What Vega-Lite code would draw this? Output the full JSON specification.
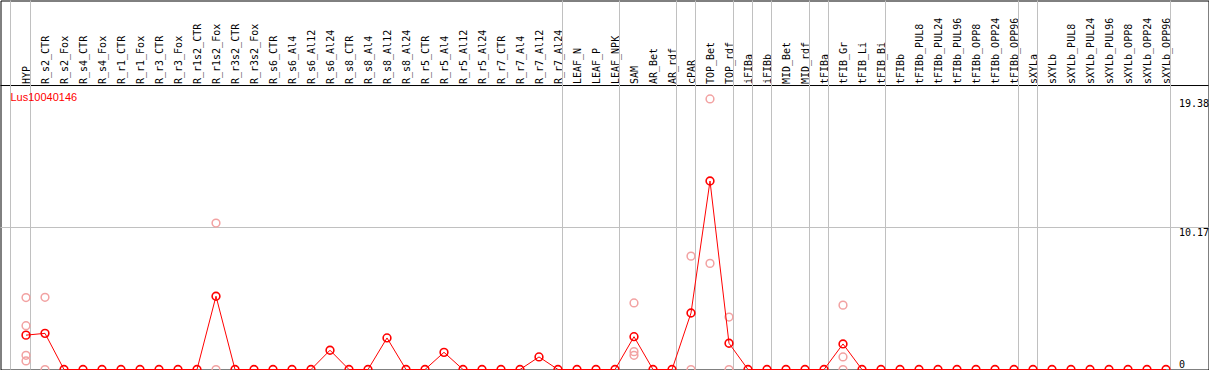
{
  "$schema": "https://vega.github.io/schema/vega-lite/v6.json",
  "width": 1208,
  "height": 369,
  "autosize": {"type": "none"},
  "padding": {"left": 0.5, "top": 0.5, "right": 0.5, "bottom": 0.5},
  "background": "white",
  "config": {
    "view": {"stroke": "black", "strokeWidth": 1},
    "axis": {"labelFont": "DejaVu Sans Mono", "labelFontSize": 10, "labelColor": "black", "ticks": false, "tickSize": 0, "domain": false, "grid": false, "title": null}
  },
  "title": {"text": "Lus10040146", "anchor": "start", "frame": "group", "orient": "top", "color": "#ff0000", "font": "Liberation Sans", "fontSize": 11, "fontWeight": "normal", "offset": 0, "dx": 10, "dy": 112, "baseline": "alphabetic"},
  "datasets": {
    "means": [
      {"cat": "HYP", "v": 2.46}, {"cat": "R_s2_CTR", "v": 2.59}, {"cat": "R_s2_Fox", "v": 0}, {"cat": "R_s4_CTR", "v": 0}, {"cat": "R_s4_Fox", "v": 0},
      {"cat": "R_r1_CTR", "v": 0}, {"cat": "R_r1_Fox", "v": 0}, {"cat": "R_r3_CTR", "v": 0}, {"cat": "R_r3_Fox", "v": 0}, {"cat": "R_r1s2_CTR", "v": 0},
      {"cat": "R_r1s2_Fox", "v": 5.25}, {"cat": "R_r3s2_CTR", "v": 0}, {"cat": "R_r3s2_Fox", "v": 0}, {"cat": "R_s6_CTR", "v": 0}, {"cat": "R_s6_Al4", "v": 0},
      {"cat": "R_s6_Al12", "v": 0}, {"cat": "R_s6_Al24", "v": 1.38}, {"cat": "R_s8_CTR", "v": 0}, {"cat": "R_s8_Al4", "v": 0}, {"cat": "R_s8_Al12", "v": 2.26},
      {"cat": "R_s8_Al24", "v": 0}, {"cat": "R_r5_CTR", "v": 0}, {"cat": "R_r5_Al4", "v": 1.23}, {"cat": "R_r5_Al12", "v": 0}, {"cat": "R_r5_Al24", "v": 0},
      {"cat": "R_r7_CTR", "v": 0}, {"cat": "R_r7_Al4", "v": 0}, {"cat": "R_r7_Al12", "v": 0.9}, {"cat": "R_r7_Al24", "v": 0}, {"cat": "LEAF_N", "v": 0},
      {"cat": "LEAF_P", "v": 0}, {"cat": "LEAF_NPK", "v": 0}, {"cat": "SAM", "v": 2.35}, {"cat": "AR_Bet", "v": 0}, {"cat": "AR_rdf", "v": 0},
      {"cat": "cPAR", "v": 4.05}, {"cat": "TOP_Bet", "v": 13.5}, {"cat": "TOP_rdf", "v": 1.88}, {"cat": "iFIBa", "v": 0}, {"cat": "iFIBb", "v": 0},
      {"cat": "MID_Bet", "v": 0}, {"cat": "MID_rdf", "v": 0}, {"cat": "tFIBa", "v": 0}, {"cat": "tFIB_Gr", "v": 1.83}, {"cat": "tFIB_Li", "v": 0},
      {"cat": "tFIB_Bi", "v": 0}, {"cat": "tFIBb", "v": 0}, {"cat": "tFIBb_PUL8", "v": 0}, {"cat": "tFIBb_PUL24", "v": 0}, {"cat": "tFIBb_PUL96", "v": 0},
      {"cat": "tFIBb_OPP8", "v": 0}, {"cat": "tFIBb_OPP24", "v": 0}, {"cat": "tFIBb_OPP96", "v": 0}, {"cat": "sXYLa", "v": 0}, {"cat": "sXYLb", "v": 0},
      {"cat": "sXYLb_PUL8", "v": 0}, {"cat": "sXYLb_PUL24", "v": 0}, {"cat": "sXYLb_PUL96", "v": 0}, {"cat": "sXYLb_OPP8", "v": 0}, {"cat": "sXYLb_OPP24", "v": 0},
      {"cat": "sXYLb_OPP96", "v": 0}
    ],
    "reps": [
      {"cat": "HYP", "v": 5.15}, {"cat": "HYP", "v": 3.14}, {"cat": "HYP", "v": 1.02}, {"cat": "HYP", "v": 0.61},
      {"cat": "R_s2_CTR", "v": 5.17}, {"cat": "R_s2_CTR", "v": 0},
      {"cat": "R_r1s2_Fox", "v": 10.49}, {"cat": "R_r1s2_Fox", "v": 0},
      {"cat": "SAM", "v": 4.77}, {"cat": "SAM", "v": 1.28}, {"cat": "SAM", "v": 1.02},
      {"cat": "cPAR", "v": 8.12}, {"cat": "cPAR", "v": 0},
      {"cat": "TOP_Bet", "v": 19.38}, {"cat": "TOP_Bet", "v": 7.6},
      {"cat": "TOP_rdf", "v": 3.76}, {"cat": "TOP_rdf", "v": 0},
      {"cat": "tFIB_Gr", "v": 4.61}, {"cat": "tFIB_Gr", "v": 0.9}, {"cat": "tFIB_Gr", "v": 0}
    ],
    "bounds": [
      {"cat": "HYP"}, {"cat": "R_r7_Al24"}, {"cat": "LEAF_NPK"}, {"cat": "AR_rdf"}, {"cat": "cPAR"}, {"cat": "TOP_rdf"}, {"cat": "iFIBa"},
      {"cat": "iFIBb"}, {"cat": "MID_rdf"}, {"cat": "tFIBa"}, {"cat": "tFIB_Bi"}, {"cat": "tFIBb_OPP96"}, {"cat": "sXYLa"}, {"cat": "sXYLb_OPP96"}
    ],
    "hlines": [
      {"v": 10.17, "kind": "grid"}, {"v": 20.34, "kind": "frame"}
    ]
  },
  "layer": [
    {
      "data": {"name": "hlines"},
      "mark": {"type": "rule", "strokeWidth": 1},
      "encoding": {
        "y": {"field": "v", "type": "quantitative", "scale": {"domain": [0, 26.43]}},
        "color": {"field": "kind", "type": "nominal", "scale": {"domain": ["grid", "frame"], "range": ["#c0c0c0", "#000000"]}, "legend": null}
      }
    },
    {
      "encoding": {
        "x": {
          "field": "cat", "type": "nominal",
          "scale": {"type": "point", "padding": 0, "range": [25.5, 1165.5], "domain": ["HYP","R_s2_CTR","R_s2_Fox","R_s4_CTR","R_s4_Fox","R_r1_CTR","R_r1_Fox","R_r3_CTR","R_r3_Fox","R_r1s2_CTR","R_r1s2_Fox","R_r3s2_CTR","R_r3s2_Fox","R_s6_CTR","R_s6_Al4","R_s6_Al12","R_s6_Al24","R_s8_CTR","R_s8_Al4","R_s8_Al12","R_s8_Al24","R_r5_CTR","R_r5_Al4","R_r5_Al12","R_r5_Al24","R_r7_CTR","R_r7_Al4","R_r7_Al12","R_r7_Al24","LEAF_N","LEAF_P","LEAF_NPK","SAM","AR_Bet","AR_rdf","cPAR","TOP_Bet","TOP_rdf","iFIBa","iFIBb","MID_Bet","MID_rdf","tFIBa","tFIB_Gr","tFIB_Li","tFIB_Bi","tFIBb","tFIBb_PUL8","tFIBb_PUL24","tFIBb_PUL96","tFIBb_OPP8","tFIBb_OPP24","tFIBb_OPP96","sXYLa","sXYLb","sXYLb_PUL8","sXYLb_PUL24","sXYLb_PUL96","sXYLb_OPP8","sXYLb_OPP24","sXYLb_OPP96"]},
          "axis": {"orient": "top", "labelAngle": 270, "labelAlign": "left", "labelBaseline": "middle", "labelPadding": -83, "labelOverlap": false, "labelLimit": 0, "labelFlush": false}
        }
      },
      "layer": [
        {
          "data": {"name": "bounds"},
          "mark": {"type": "rule", "color": "#c0c0c0", "strokeWidth": 1, "xOffset": 4.5}
        },
        {
          "data": {"name": "bounds"},
          "transform": [{"filter": "datum.cat === 'HYP'"}],
          "mark": {"type": "rule", "color": "#c0c0c0", "strokeWidth": 1, "xOffset": -15.5}
        },
        {
          "data": {"name": "reps"},
          "mark": {"type": "point", "shape": "circle", "filled": false, "size": 60, "strokeWidth": 1.5, "color": "#f2a2a2", "opacity": 1},
          "encoding": {"y": {"field": "v", "type": "quantitative", "scale": {"domain": [0, 26.43]}}}
        },
        {
          "data": {"name": "means"},
          "mark": {"type": "line", "color": "#ff0000", "strokeWidth": 1},
          "encoding": {"y": {"field": "v", "type": "quantitative", "scale": {"domain": [0, 26.43]}}}
        },
        {
          "data": {"name": "means"},
          "mark": {"type": "point", "shape": "circle", "filled": false, "size": 60, "strokeWidth": 1.6, "color": "#ff0000", "opacity": 1},
          "encoding": {
            "y": {
              "field": "v", "type": "quantitative", "scale": {"domain": [0, 26.43]},
              "axis": {"orient": "right", "values": [0, 10.17, 19.38], "labelExpr": "datum.value === 0 ? '0' : format(datum.value, '.2f')", "labelAlign": "left", "labelPadding": -30, "labelBaseline": {"condition": {"test": "datum.value === 0", "value": "bottom"}, "value": "top"}, "labelFlush": false, "labelOverlap": false}
            }
          }
        }
      ]
    }
  ]
}
